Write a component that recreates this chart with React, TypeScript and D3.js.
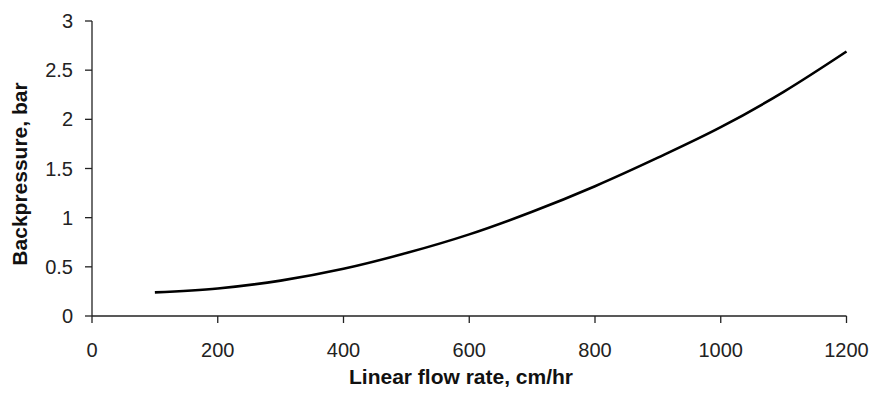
import React from "react";
import * as d3 from "d3";

const flowRates = [100, 200, 300, 400, 500, 600, 700, 800, 900, 1000, 1100, 1200];
const backpressure = [0.24, 0.28, 0.36, 0.48, 0.64, 0.83, 1.06, 1.32, 1.61, 1.92, 2.28, 2.69];
const xTicks = [0, 200, 400, 600, 800, 1000, 1200];
const yTicks = [0, 0.5, 1, 1.5, 2, 2.5, 3];
const xTitle = "Linear flow rate, cm/hr";
const yTitle = "Backpressure, bar";

export default function App() {
  const W = 872, H = 394;
  const x = d3.scaleLinear().domain([0, 1200]).range([92, 846.5]);
  const y = d3.scaleLinear().domain([0, 3]).range([316, 21]);
  const pts = flowRates.map((f, i) => [f, backpressure[i]] as [number, number]);
  const line = d3.line<[number, number]>().x(d => x(d[0])).y(d => y(d[1])).curve(d3.curveMonotoneX);
  const font = "'Liberation Sans', Arial, sans-serif";
  return (
    <svg width={W} height={H} style={{ position: "absolute", left: 0, top: 0, background: "#fff" }} fontFamily={font}>
      <rect x={0} y={0} width={W} height={H} fill="#fff" />
      <line x1={x(0)} x2={x(1200)} y1={y(0)} y2={y(0)} stroke="#222" strokeWidth={1.3} />
      <line x1={x(0)} x2={x(0)} y1={y(0)} y2={y(3)} stroke="#222" strokeWidth={1.3} />
      {xTicks.map(t => (
        <g key={"x" + t}>
          <line x1={x(t)} x2={x(t)} y1={y(0)} y2={y(0) + 7} stroke="#222" strokeWidth={1.3} />
          <text x={x(t)} y={357} textAnchor="middle" fontSize={20} fill="#222">{t}</text>
        </g>
      ))}
      {yTicks.map(t => (
        <g key={"y" + t}>
          <line x1={x(0) - 7} x2={x(0)} y1={y(t)} y2={y(t)} stroke="#222" strokeWidth={1.3} />
          <text x={73} y={y(t)} dy="0.35em" textAnchor="end" fontSize={20} fill="#222">{t}</text>
        </g>
      ))}
      <path d={line(pts) || ""} fill="none" stroke="#000" strokeWidth={2.6} />
      <text x={461} y={384} textAnchor="middle" fontSize={21} fontWeight="bold" fill="#111">{xTitle}</text>
      <text transform={`translate(27,174) rotate(-90)`} textAnchor="middle" fontSize={21} fontWeight="bold" fill="#111">{yTitle}</text>
    </svg>
  );
}
